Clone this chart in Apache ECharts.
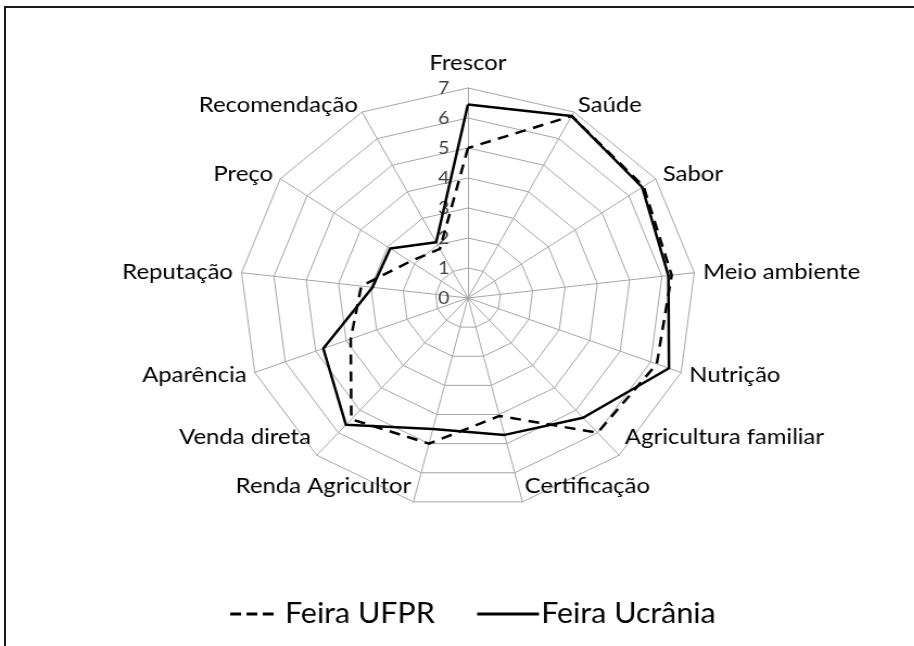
<!DOCTYPE html>
<html>
<head>
<meta charset="utf-8">
<script src="https://cdn.jsdelivr.net/npm/echarts/dist/echarts.min.js"></script>
<style>
html, body { margin: 0; padding: 0; background: #fff; overflow: hidden; }
#moldura { position: absolute; left: 4px; top: 6px; width: 1000px; height: 1000px; border: 2px solid #1a1a1a; }
/* o grafico original esta esticado na horizontal */
#main { position: absolute; left: 0; top: 0; width: 842px; height: 646px; transform: scaleX(1.0857); transform-origin: 0 0; }
</style>
</head>
<body>
<div id="moldura"></div>
<div id="main"></div>
<script>
var categorias = ['Frescor', 'Saúde', 'Sabor', 'Meio ambiente', 'Nutrição', 'Agricultura familiar',
  'Certificação', 'Renda Agricultor', 'Venda direta', 'Aparência', 'Reputação', 'Preço', 'Recomendação'];
var feiraUFPR    = [5.0, 6.85, 6.55, 6.3, 6.2, 6.0, 4.05, 5.0, 5.4, 3.85, 3.3, 2.15, 1.85];
var feiraUcrania = [6.45, 6.85, 6.5, 6.2, 6.6, 5.33, 4.7, 4.5, 5.65, 4.75, 2.95, 2.9, 2.1];
var escalaMax = 7;

// rotulos de baixo ficam mais perto do poligono no original
var rotulosBaixo = ['Agricultura familiar', 'Certificação', 'Renda Agricultor', 'Venda direta'];

// radar do echarts gira anti-horario, entao inverte a ordem depois do primeiro
function horario(arr) {
  return [arr[0]].concat(arr.slice(1).reverse());
}

var indicadores = horario(categorias).map(function (nome, i) {
  var ind = { name: nome, min: 0, max: escalaMax };
  if (i == 0) {
    ind.axisLabel = { show: true, color: '#404040', fontSize: 18, fontFamily: 'Lato', margin: 17, align: 'right' };
  }
  return ind;
});

var chart = echarts.init(document.getElementById('main'));

var option = {
  animation: false,
  backgroundColor: 'transparent',
  legend: {
    left: 207,
    top: 595,
    itemWidth: 57,
    itemHeight: 3,
    itemGap: 39,
    textStyle: { color: '#000', fontSize: 28, fontFamily: 'Lato', padding: [0, 0, 0, -3] },
    data: [
      { name: 'Feira UFPR', icon: 'path://M0,0h10v3h-10z M15,0h10v3h-10z M30,0h10v3h-10z' },
      { name: 'Feira Ucrânia', icon: 'rect' }
    ]
  },
  radar: {
    center: [431, 298],
    radius: 210,
    startAngle: 90,
    splitNumber: 7,
    shape: 'polygon',
    nameGap: 8,
    axisName: {
      color: '#000', fontSize: 22, fontFamily: 'Lato',
      formatter: function (nome) {
        if (nome == 'Frescor') return '{topo|' + nome + '}';
        if (rotulosBaixo.indexOf(nome) >= 0) return '{sobe|' + nome + '}';
        return nome;
      },
      rich: {
        topo: { fontSize: 22, fontFamily: 'Lato', color: '#000', padding: [0, 0, 6, 0] },
        sobe: { fontSize: 22, fontFamily: 'Lato', color: '#000', padding: [0, 0, 48, 0] }
      }
    },
    splitLine: { lineStyle: { color: '#a6a6a6', width: 1 } },
    splitArea: { show: false },
    axisLine: { lineStyle: { color: '#a6a6a6', width: 1 } },
    axisTick: { show: false },
    axisLabel: { show: false },
    indicator: indicadores
  },
  series: [{
    type: 'radar',
    symbol: 'none',
    data: [
      {
        name: 'Feira UFPR',
        value: horario(feiraUFPR),
        itemStyle: { color: '#000' },
        lineStyle: { color: '#000', width: 2.5, type: [10, 7] }
      },
      {
        name: 'Feira Ucrânia',
        value: horario(feiraUcrania),
        itemStyle: { color: '#000' },
        lineStyle: { color: '#000', width: 2.5, type: 'solid' }
      }
    ]
  }]
};

chart.setOption(option);
</script>
</body>
</html>
